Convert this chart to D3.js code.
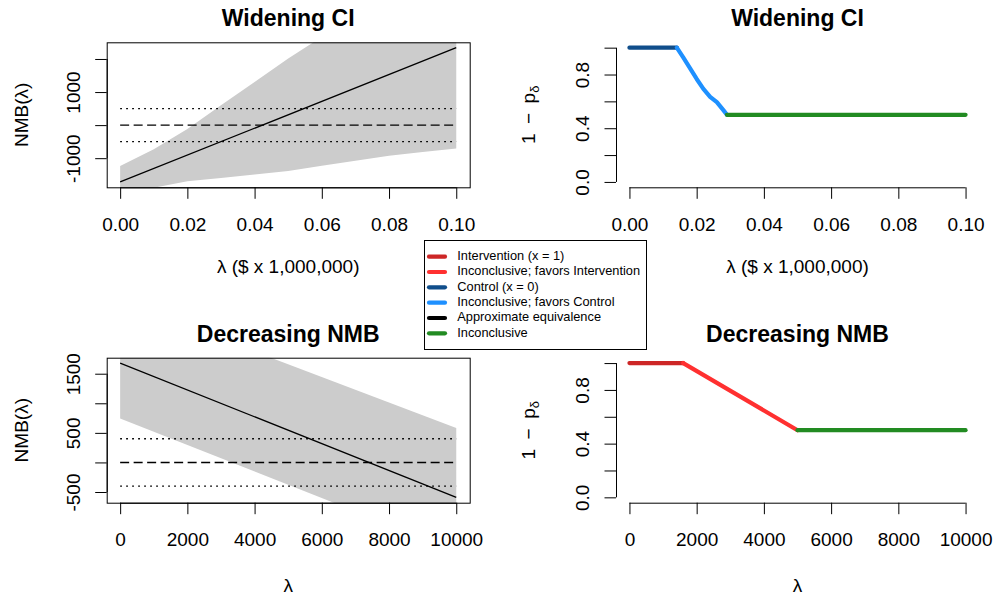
<!DOCTYPE html>
<html>
<head>
<meta charset="utf-8">
<script src="https://cdn.jsdelivr.net/npm/d3@7"></script>
<style>
  body { margin: 0; background: #fff; }
  svg { display: block; }
</style>
</head>
<body>
<script>
// ---------- legend categories ----------
const legendLabels = [
  "Intervention (x = 1)",
  "Inconclusive; favors Intervention",
  "Control (x = 0)",
  "Inconclusive; favors Control",
  "Approximate equivalence",
  "Inconclusive"
];
const legendColors = ["#CD2626", "#FF3030", "#104E8B", "#1E90FF", "#000000", "#228B22"];

// ---------- Widening CI ----------
const wideLambda = [0, 0.10];
const wideNMB = [-1718, 2342];
const wideBandLambda = [0, 0.01, 0.02, 0.03, 0.04, 0.05, 0.06, 0.07, 0.08, 0.09, 0.10];
const wideLower = [-2198, -1892, -1696, -1600, -1494, -1388, -1232, -1076, -930, -814, -708];
const wideUpper = [-1238, -732, -116, 600, 1306, 2012, 2668, 3324, 3990, 4686, 5392];
const wideMargin = 500;
const wideXTicks = [0, 0.02, 0.04, 0.06, 0.08, 0.10];
const wideXLabels = ["0.00", "0.02", "0.04", "0.06", "0.08", "0.10"];
const wideYTicks = [-1000, 0, 1000, 2000];
const wideYLabels = ["-1000", "", "1000", ""];
const wideProbLambda = [0, 0.0141, 0.016, 0.018, 0.020, 0.022, 0.024, 0.026, 0.028, 0.029, 0.10];
const wideProb = [1, 1, 0.928, 0.848, 0.767, 0.693, 0.634, 0.594, 0.533, 0.5, 0.5];
const wideProbClass = [2, 3, 3, 3, 3, 3, 3, 3, 3, 5];

// ---------- Decreasing NMB ----------
const decLambda = [0, 10000];
const decNMB = [1680, -590];
const decBandLambda = [0, 10000];
const decLower = [742, -1498];
const decUpper = [2736, 583];
const decMargin = 400;
const decXTicks = [0, 2000, 4000, 6000, 8000, 10000];
const decXLabels = ["0", "2000", "4000", "6000", "8000", "10000"];
const decYTicks = [-500, 0, 500, 1000, 1500];
const decYLabels = ["-500", "", "500", "", "1500"];
const decProbLambda = [0, 1600, 5000, 10000];
const decProb = [1, 1, 0.5, 0.5];
const decProbClass = [0, 1, 5];

// ---------- shared probability axis ----------
const probYTicks = [0, 0.2, 0.4, 0.6, 0.8, 1.0];
const probYLabels = ["0.0", "", "0.4", "", "0.8", ""];

// ---------- layout ----------
const W = 997, H = 599;
const PW = 363, PH = 145;
const colLeft = [106.7, 616];
const rowTop = [42.3, 357.7];
const FONT = "'Liberation Sans', Arial, Helvetica, sans-serif";

const svg = d3.select("body").append("svg")
  .attr("width", W).attr("height", H)
  .style("font-family", FONT);

function makeScales(left, top, xd, yd) {
  const px = (xd[1] - xd[0]) * 0.04, py = (yd[1] - yd[0]) * 0.04;
  return {
    x: d3.scaleLinear().domain([xd[0] - px, xd[1] + px]).range([left, left + PW]),
    y: d3.scaleLinear().domain([yd[0] - py, yd[1] + py]).range([top + PH, top])
  };
}

function drawAxes(g, s, left, top, xTicks, xLabels, yTicks, yLabels) {
  const bottom = top + PH;
  const gx = g.append("g")
    .attr("transform", `translate(0,${bottom})`)
    .call(d3.axisBottom(s.x).tickValues(xTicks)
      .tickFormat((d, i) => xLabels[i]).tickSize(11.5).tickSizeOuter(0));
  gx.attr("font-size", null).attr("font-family", null);
  gx.select(".domain").remove();
  gx.selectAll(".tick line").attr("stroke", "#000");
  gx.selectAll(".tick text").attr("y", 43.3).attr("dy", null)
    .attr("font-size", 19).attr("fill", "#000");
  g.append("line")
    .attr("x1", s.x(xTicks[0])).attr("x2", s.x(xTicks[xTicks.length - 1]))
    .attr("y1", bottom + 0.5).attr("y2", bottom + 0.5)
    .attr("stroke", "#000");

  const gy = g.append("g")
    .attr("transform", `translate(${left},0)`)
    .call(d3.axisLeft(s.y).tickValues(yTicks)
      .tickFormat((d, i) => yLabels[i]).tickSize(11.5).tickSizeOuter(0));
  gy.attr("font-size", null).attr("font-family", null);
  gy.select(".domain").remove();
  gy.selectAll(".tick line").attr("stroke", "#000");
  gy.selectAll(".tick text")
    .attr("x", 0).attr("y", -27).attr("dy", null)
    .attr("transform", "rotate(-90)")
    .attr("text-anchor", "middle")
    .attr("font-size", 19).attr("fill", "#000");
  g.append("line")
    .attr("x1", left + 0.5).attr("x2", left + 0.5)
    .attr("y1", s.y(yTicks[0])).attr("y2", s.y(yTicks[yTicks.length - 1]))
    .attr("stroke", "#000");
}

function title(text, cx, y) {
  svg.append("text").attr("x", cx).attr("y", y)
    .attr("text-anchor", "middle").attr("font-size", 23).attr("font-weight", "bold")
    .text(text);
}

function lambdaTitle(cx, y, suffix) {
  svg.append("text").attr("x", cx).attr("y", y)
    .attr("text-anchor", "middle").attr("font-size", 19)
    .text("λ" + suffix);
}

function nmbTitle(top) {
  const cy = top + PH / 2;
  svg.append("text").attr("x", 28).attr("y", cy)
    .attr("transform", `rotate(-90,28,${cy})`)
    .attr("text-anchor", "middle").attr("font-size", 19)
    .text("NMB(λ)");
}

function probTitle(top) {
  const cy = top + PH / 2, x = 535;
  const t = svg.append("text").attr("x", x).attr("y", cy)
    .attr("transform", `rotate(-90,${x},${cy})`)
    .attr("text-anchor", "middle").attr("font-size", 19);
  t.append("tspan").text("1\u2002−\u2002p");
  t.append("tspan").attr("dy", 4).attr("font-size", 13).text("δ");
}

// NMB panel: CI band, threshold lines, NMB line, box
function nmbPanel(id, left, top, lam, nmb, bandLam, lower, upper, margin,
                  xTicks, xLabels, yTicks, yLabels) {
  const s = makeScales(left, top, d3.extent(lam), d3.extent(nmb));
  const g = svg.append("g");

  svg.append("clipPath").attr("id", id)
    .append("rect").attr("x", left).attr("y", top).attr("width", PW).attr("height", PH);

  const band = bandLam.map((l, i) => ({ l, lo: lower[i], hi: upper[i] }));
  g.append("path").datum(band)
    .attr("clip-path", `url(#${id})`)
    .attr("fill", "#CCCCCC")
    .attr("d", d3.area().x(d => s.x(d.l)).y0(d => s.y(d.lo)).y1(d => s.y(d.hi)));

  const x0 = s.x(lam[0]), x1 = s.x(lam[lam.length - 1]);
  [margin, -margin].forEach(v => {
    g.append("line").attr("x1", x0).attr("x2", x1)
      .attr("y1", s.y(v)).attr("y2", s.y(v))
      .attr("stroke", "#000").attr("stroke-width", 1.4).attr("stroke-dasharray", "1.8,4.2");
  });
  g.append("line").attr("x1", x0).attr("x2", x1)
    .attr("y1", s.y(0)).attr("y2", s.y(0))
    .attr("stroke", "#000").attr("stroke-width", 1.4).attr("stroke-dasharray", "9,4.5");

  const pts = lam.map((l, i) => [l, nmb[i]]);
  g.append("path").datum(pts)
    .attr("fill", "none").attr("stroke", "#000").attr("stroke-width", 1.3)
    .attr("d", d3.line().x(d => s.x(d[0])).y(d => s.y(d[1])));

  g.append("rect").attr("x", left + 0.5).attr("y", top + 0.5)
    .attr("width", PW).attr("height", PH)
    .attr("fill", "none").attr("stroke", "#000");

  drawAxes(g, s, left, top, xTicks, xLabels, yTicks, yLabels);
}

// Probability panel: coloured runs by decision category
function probPanel(left, top, lam, prob, cls, xTicks, xLabels) {
  const s = makeScales(left, top, d3.extent(lam), [0, 1]);
  const g = svg.append("g");
  const line = d3.line().x(d => s.x(d[0])).y(d => s.y(d[1]));
  let start = 0;
  for (let i = 1; i <= cls.length; i++) {
    if (i === cls.length || cls[i] !== cls[start]) {
      const pts = [];
      for (let k = start; k <= i; k++) pts.push([lam[k], prob[k]]);
      g.append("path").datum(pts)
        .attr("fill", "none").attr("stroke", legendColors[cls[start]])
        .attr("stroke-width", 4.2).attr("stroke-linecap", "round").attr("stroke-linejoin", "round")
        .attr("d", line);
      start = i;
    }
  }
  drawAxes(g, s, left, top, xTicks, xLabels, probYTicks, probYLabels);
}

// ---------- panels ----------
nmbPanel("clipWide", colLeft[0], rowTop[0], wideLambda, wideNMB, wideBandLambda,
  wideLower, wideUpper, wideMargin, wideXTicks, wideXLabels, wideYTicks, wideYLabels);
probPanel(colLeft[1], rowTop[0], wideProbLambda, wideProb, wideProbClass, wideXTicks, wideXLabels);
nmbPanel("clipDec", colLeft[0], rowTop[1], decLambda, decNMB, decBandLambda,
  decLower, decUpper, decMargin, decXTicks, decXLabels, decYTicks, decYLabels);
probPanel(colLeft[1], rowTop[1], decProbLambda, decProb, decProbClass, decXTicks, decXLabels);

// titles and axis titles
const cxL = colLeft[0] + PW / 2, cxR = colLeft[1] + PW / 2;
title("Widening CI", cxL, 26);
title("Widening CI", cxR, 26);
title("Decreasing NMB", cxL, 341.7);
title("Decreasing NMB", cxR, 341.7);
lambdaTitle(cxL, 272.5, " ($ x 1,000,000)");
lambdaTitle(cxR, 272.5, " ($ x 1,000,000)");
lambdaTitle(cxL, 592, "");
lambdaTitle(cxR, 592, "");
nmbTitle(rowTop[0]);
nmbTitle(rowTop[1]);
probTitle(rowTop[0]);
probTitle(rowTop[1]);

// ---------- legend ----------
const lg = svg.append("g");
lg.append("rect").attr("x", 424.5).attr("y", 240.5).attr("width", 222).attr("height", 109)
  .attr("fill", "#fff").attr("stroke", "#000");
legendLabels.forEach((lab, i) => {
  const cy = 256.7 + i * 15.32;
  lg.append("line").attr("x1", 429).attr("x2", 445).attr("y1", cy).attr("y2", cy)
    .attr("stroke", legendColors[i]).attr("stroke-width", 4.2).attr("stroke-linecap", "round");
  lg.append("text").attr("x", 457.3).attr("y", cy + 3.3)
    .attr("font-size", 12.8).text(lab);
});
</script>
</body>
</html>
